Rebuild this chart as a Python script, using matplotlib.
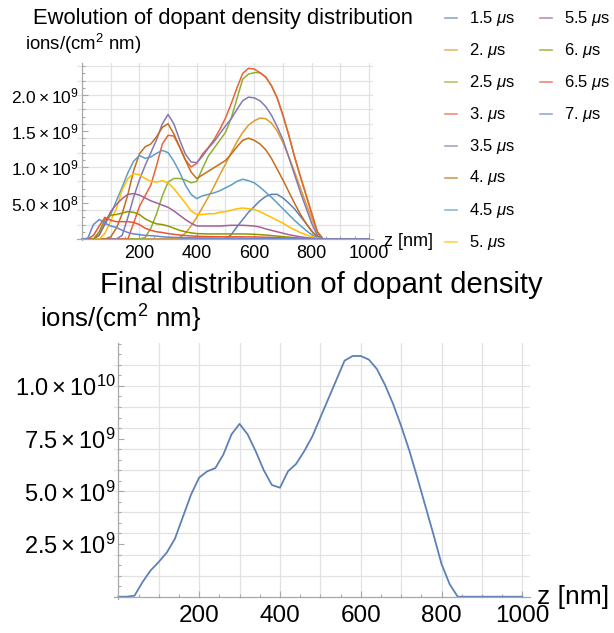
import numpy as np
import matplotlib
matplotlib.use("Agg")
import matplotlib.pyplot as plt
from matplotlib.lines import Line2D
from matplotlib.ticker import MultipleLocator, FixedLocator

plt.rcParams["font.family"] = ["Liberation Sans", "DejaVu Sans"]
plt.rcParams["mathtext.fontset"] = "custom"
plt.rcParams["mathtext.rm"] = "Liberation Sans"
plt.rcParams["mathtext.it"] = "Liberation Sans:italic"
plt.rcParams["mathtext.bf"] = "Liberation Sans:bold"

# depth grid [nm]: 0..840 every 20 nm, then the end of the range
z_nm = np.r_[np.arange(0, 841, 20), 1000]

# dopant density per time step, units of 1e9 ions/(cm^2 nm)
times = ["1.5", "2.", "2.5", "3.", "3.5", "4.", "4.5", "5.", "5.5", "6.", "6.5", "7."]

d_15 = [0] * 26 + [0.06, 0.17, 0.27, 0.37, 0.45, 0.53, 0.59, 0.62, 0.62, 0.57, 0.5, 0.42,
                   0.32, 0.22, 0.11, 0.03, 0, 0]
d_20 = [0] * 17 + [0.02, 0.08, 0.18, 0.3, 0.44, 0.58, 0.73, 0.89, 1.04, 1.2, 1.35, 1.48, 1.58,
                   1.64, 1.68, 1.67, 1.61, 1.5, 1.34, 1.15, 0.94, 0.72, 0.5, 0.29, 0.09, 0, 0]
d_25 = [0] * 11 + [0.02, 0.15, 0.35, 0.6, 0.79, 0.84, 0.84, 0.82, 0.78, 0.8, 0.98, 1.15, 1.26,
                   1.37, 1.48, 1.68, 1.95, 2.22, 2.29, 2.31, 2.31, 2.25, 2.13, 1.96, 1.72, 1.45,
                   1.15, 0.88, 0.62, 0.36, 0.1, 0, 0]
d_30 = [0] * 9 + [0.22, 0.45, 0.6, 0.75, 1.02, 1.32, 1.44, 1.43, 1.28, 1.1, 1.0, 1.05, 1.18,
                  1.27, 1.38, 1.52, 1.68, 1.88, 2.1, 2.3, 2.37, 2.36, 2.31, 2.25, 2.13, 1.96,
                  1.72, 1.45, 1.15, 0.88, 0.62, 0.36, 0.1, 0, 0]
d_35 = [0] * 7 + [0.05, 0.3, 0.58, 0.82, 1.02, 1.2, 1.38, 1.6, 1.73, 1.6, 1.38, 1.18, 1.07,
                  1.06, 1.15, 1.26, 1.35, 1.46, 1.57, 1.67, 1.8, 1.92, 1.97, 1.96, 1.92, 1.84,
                  1.72, 1.56, 1.38, 1.14, 0.9, 0.66, 0.44, 0.22, 0.05, 0, 0]
d_40 = [0] * 5 + [0.03, 0.15, 0.35, 0.62, 0.95, 1.18, 1.28, 1.32, 1.42, 1.55, 1.6, 1.46, 1.28,
                  1.1, 0.93, 0.84, 0.89, 0.94, 0.99, 1.04, 1.09, 1.18, 1.28, 1.37, 1.4, 1.37,
                  1.32, 1.24, 1.12, 0.97, 0.82, 0.66, 0.5, 0.35, 0.22, 0.11, 0.03, 0, 0]
d_45 = [0] * 3 + [0.06, 0.2, 0.34, 0.53, 0.72, 0.92, 1.08, 1.16, 1.12, 1.14, 1.19, 1.23, 1.2,
                  1.08, 0.93, 0.75, 0.62, 0.56, 0.6, 0.62, 0.64, 0.67, 0.71, 0.75, 0.8, 0.83,
                  0.81, 0.78, 0.72, 0.65, 0.58, 0.5, 0.42, 0.34, 0.26, 0.19, 0.12, 0.06, 0.02,
                  0, 0]
d_50 = [0] * 4 + [0.08, 0.25, 0.42, 0.68, 0.84, 0.91, 0.89, 0.84, 0.8, 0.79, 0.81, 0.78, 0.7,
                  0.6, 0.5, 0.39, 0.34, 0.34, 0.35, 0.35, 0.37, 0.38, 0.4, 0.42, 0.43, 0.42,
                  0.41, 0.38, 0.34, 0.3, 0.26, 0.22, 0.17, 0.13, 0.09, 0.06, 0.03, 0.01, 0, 0]
d_55 = [0] * 3 + [0.05, 0.22, 0.38, 0.48, 0.56, 0.62, 0.63, 0.61, 0.57, 0.53, 0.5, 0.47, 0.44,
                  0.39, 0.33, 0.27, 0.22, 0.18, 0.18, 0.18, 0.18, 0.18, 0.185, 0.19, 0.19, 0.19,
                  0.185, 0.18, 0.165, 0.14, 0.12, 0.1, 0.08, 0.06, 0.045, 0.03, 0.02, 0.01,
                  0.003, 0, 0]
d_60 = [0] * 3 + [0.1, 0.27, 0.33, 0.34, 0.36, 0.38, 0.37, 0.34, 0.28, 0.24, 0.21, 0.2, 0.18,
                  0.15, 0.12, 0.1, 0.085, 0.075, 0.072, 0.07, 0.07, 0.07, 0.07, 0.07, 0.07,
                  0.07, 0.068, 0.065, 0.06, 0.055, 0.048, 0.04, 0.032, 0.025, 0.018, 0.012,
                  0.007, 0.003, 0.001, 0, 0]
d_65 = [0] * 2 + [0.05, 0.18, 0.3, 0.26, 0.24, 0.24, 0.24, 0.23, 0.2, 0.15, 0.12, 0.1, 0.09,
                  0.075, 0.065, 0.055, 0.048, 0.042, 0.038, 0.035, 0.033, 0.032, 0.031, 0.03,
                  0.03, 0.03, 0.03, 0.029, 0.028, 0.026, 0.024, 0.021, 0.018, 0.015, 0.012,
                  0.009, 0.006, 0.004, 0.002, 0.001, 0, 0]
d_70 = [0, 0.01, 0.2, 0.27, 0.22, 0.18, 0.16, 0.12, 0.09, 0.07, 0.06, 0.05, 0.045, 0.04, 0.03,
        0.025, 0.022, 0.02, 0.018, 0.016, 0.015, 0.014, 0.013, 0.012, 0.011, 0.01, 0.01,
        0.009, 0.009, 0.008, 0.008, 0.007, 0.006, 0.005, 0.005, 0.004, 0.003, 0.002, 0.002,
        0.001, 0.001, 0, 0, 0]

# final distribution, units of 1e9 ions/(cm^2 nm)
final = [0, 0, 0.05, 0.7, 1.25, 1.65, 2.1, 2.75, 3.8, 4.85, 5.65, 5.95, 6.1, 6.75, 7.7, 8.2,
         7.7, 6.9, 6.0, 5.3, 5.17, 5.95, 6.3, 6.9, 7.6, 8.5, 9.4, 10.3, 11.2, 11.42, 11.42,
         11.25, 10.8, 10.05, 9.15, 8.1, 6.95, 5.65, 4.3, 2.95, 1.55, 0.6, 0, 0]

series = [d_15, d_20, d_25, d_30, d_35, d_40, d_45, d_50, d_55, d_60, d_65, d_70]
colors = ["#5E81B5", "#E19C24", "#8FB032", "#EB6235", "#8778B3", "#C56E1A",
          "#5D9EC7", "#FFBF00", "#A5609D", "#929600", "#E95536", "#6685D9"]

W, H = 614, 633
AXC = "#a8a8a8"
GRC = "#e2e2e2"


def fx(x):
    return x / W


def fy(y):
    return 1 - y / H


def setup_axes(ax, xgrid, ygrid, ymajor, yminor, ylabels, fs_x, fs_y, padx):
    for s in ["top", "right"]:
        ax.spines[s].set_visible(False)
    for s in ["left", "bottom"]:
        ax.spines[s].set_position(("data", 0))
        ax.spines[s].set_color(AXC)
        ax.spines[s].set_linewidth(0.9)
    for g in xgrid:
        ax.axvline(g, color=GRC, lw=0.9, zorder=0)
    for g in ygrid:
        ax.axhline(g, color=GRC, lw=0.9, zorder=0)
    ax.xaxis.set_major_locator(FixedLocator([200, 400, 600, 800, 1000]))
    ax.set_xticklabels(["200", "400", "600", "800", "1000"])
    ax.xaxis.set_minor_locator(MultipleLocator(50))
    ax.yaxis.set_major_locator(FixedLocator(ymajor))
    ax.set_yticklabels(ylabels)
    ax.yaxis.set_minor_locator(MultipleLocator(yminor))
    ax.tick_params(which="both", direction="in", color=AXC, width=0.8)
    ax.tick_params(which="major", length=4)
    ax.tick_params(which="minor", length=2)
    ax.tick_params(axis="x", labelsize=fs_x, pad=padx)
    ax.tick_params(axis="y", labelsize=fs_y, pad=2)
    ax.set_facecolor("none")


fig = plt.figure(figsize=(W / 100, H / 100), dpi=100)

# ---- top: evolution of the distribution
ax1 = fig.add_axes([0.1251, 0.6202, 0.4829, 0.2798])
for vals, c in zip(series, colors):
    ax1.plot(z_nm, vals, color=c, lw=1.1, solid_joinstyle="round")
ax1.set_xlim(-18, 1015)
ax1.set_ylim(-0.02, 2.44)
setup_axes(ax1, range(100, 1001, 100), np.arange(0.2, 2.41, 0.2),
           [0.5, 1.0, 1.5, 2.0], 0.1,
           [r"$5.0\times10^{8}$", r"$1.0\times10^{9}$", r"$1.5\times10^{9}$", r"$2.0\times10^{9}$"],
           13, 12.5, 4)

fig.text(fx(223), fy(24), "Ewolution of dopant density distribution",
         ha="center", va="baseline", fontsize=15.8)
fig.text(fx(25), fy(50), r"ions/(cm$^{2}$ nm)", ha="left", va="baseline", fontsize=13.4)
fig.text(fx(384), fy(241), "z [nm]", ha="left", va="center", fontsize=13)

# legend, two columns
for i, (t, c) in enumerate(zip(times, colors)):
    col, row = divmod(i, 8)
    x0 = 445 + 95 * col
    y0 = 18 + 32 * row
    fig.add_artist(Line2D([fx(x0), fx(x0 + 12)], [fy(y0), fy(y0)], color=c, lw=1.2,
                          alpha=0.7, transform=fig.transFigure))
    fig.text(fx(x0 + 24), fy(y0), t + r" $\mu$s", ha="left", va="center", fontsize=12)

# ---- bottom: final distribution
ax2 = fig.add_axes([0.1862, 0.0540, 0.6770, 0.4036])
ax2.plot(z_nm, final, color="#5E81B5", lw=1.3)
ax2.set_xlim(-10, 1019)
ax2.set_ylim(-0.1, 12.02)
setup_axes(ax2, range(100, 1001, 100), range(1, 12),
           [2.5, 5.0, 7.5, 10.0], 0.5,
           [r"$2.5\times10^{9}$", r"$5.0\times10^{9}$", r"$7.5\times10^{9}$", r"$1.0\times10^{10}$"],
           17.5, 17, 6)

fig.text(fx(321), fy(293), "Final distribution of dopant density",
         ha="center", va="baseline", fontsize=21)
fig.text(fx(40), fy(328), r"ions/(cm$^{2}$ nm}", ha="left", va="baseline", fontsize=18.5)
fig.text(fx(537), fy(597), "z [nm]", ha="left", va="center", fontsize=19)

fig.savefig("out.png", dpi=100)
